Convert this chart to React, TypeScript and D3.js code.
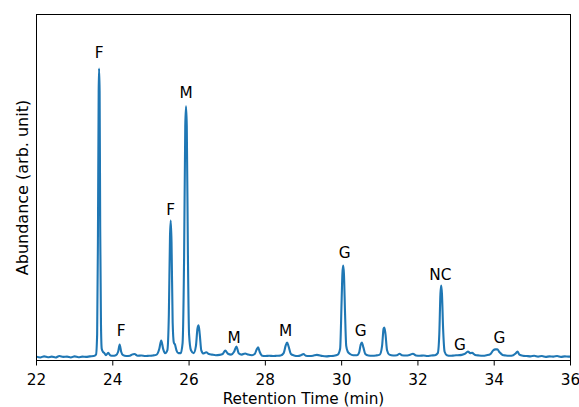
import React from "react";
import * as d3 from "d3";

// Chromatogram trace: [retention time (min), abundance]
const traceTime: number[] = [
  22.0, 22.1, 22.2, 22.3, 22.4, 22.5, 22.6, 22.7, 22.8, 22.9, 23.0, 23.1, 23.2, 23.3, 23.4, 23.5,
  23.56, 23.59, 23.61, 23.63, 23.64, 23.655, 23.67, 23.69, 23.71, 23.74, 23.78, 23.82, 23.88, 23.94,
  24.0, 24.08, 24.14, 24.18, 24.22, 24.27, 24.35, 24.45, 24.5, 24.57, 24.65, 24.75, 24.85, 24.95,
  25.05, 25.15, 25.22, 25.27, 25.32, 25.37, 25.43, 25.47, 25.5, 25.52, 25.54, 25.57, 25.6, 25.63,
  25.67, 25.72, 25.78, 25.83, 25.87, 25.9, 25.92, 25.94, 25.97, 26.0, 26.05, 26.12, 26.18, 26.22,
  26.25, 26.28, 26.32, 26.38, 26.45, 26.52, 26.6, 26.7, 26.8, 26.88, 26.95, 27.02, 27.1, 27.18,
  27.24, 27.3, 27.38, 27.47, 27.55, 27.65, 27.72, 27.78, 27.81, 27.85, 27.92, 28.0, 28.1, 28.2,
  28.3, 28.4, 28.48, 28.53, 28.57, 28.61, 28.67, 28.75, 28.85, 28.95, 29.0, 29.06, 29.15, 29.25,
  29.35, 29.5, 29.6, 29.7, 29.8, 29.9, 29.96, 30.0, 30.02, 30.04, 30.06, 30.09, 30.12, 30.16,
  30.22, 30.3, 30.4, 30.46, 30.5, 30.53, 30.57, 30.62, 30.7, 30.8, 30.9, 31.0, 31.06, 31.1,
  31.12, 31.15, 31.19, 31.25, 31.35, 31.45, 31.52, 31.58, 31.68, 31.78, 31.87, 31.95, 32.05,
  32.15, 32.25, 32.35, 32.45, 32.52, 32.56, 32.59, 32.61, 32.63, 32.66, 32.7, 32.76, 32.85,
  32.95, 33.05, 33.15, 33.24, 33.31, 33.37, 33.42, 33.5, 33.6, 33.7, 33.8, 33.9, 33.97, 34.03,
  34.08, 34.14, 34.22, 34.3, 34.4, 34.5, 34.56, 34.61, 34.66, 34.75, 34.85, 34.95, 35.05, 35.15,
  35.25, 35.35, 35.45, 35.55, 35.65, 35.75, 35.85, 35.95, 36.0,
];
const traceAbundance: number[] = [
  0.3, 0.0, 0.4, 0.1, 0.3, 0.0, 0.5, 0.2, 0.3, 0.0, 0.4, 0.1, 0.3, 0.2, 0.4, 0.5,
  1.0, 8, 40, 92, 100, 92, 45, 12, 3, 2, 1.5, 0.8, 1.6, 0.7,
  0.6, 0.8, 2.0, 4.5, 2.0, 0.8, 0.5, 0.6, 1.0, 1.2, 0.6, 0.7, 0.5, 0.6,
  0.7, 1.0, 3.0, 5.9, 3.0, 1.5, 2.5, 15, 42, 47.4, 40, 12, 5.2, 4.5,
  2.5, 1.5, 1.5, 5, 35, 80, 86.9, 80, 35, 8, 2.5, 1.5, 4, 10,
  11.1, 8, 2.5, 1.4, 1.8, 1.2, 1.0, 0.8, 0.9, 1.2, 2.4, 1.3, 1.0, 2.0,
  3.8, 1.5, 1.0, 1.4, 1.0, 0.8, 1.2, 3.0, 3.5, 2.0, 0.6, 0.5, 0.6, 0.5,
  0.6, 0.7, 1.5, 4.0, 5.2, 3.8, 1.2, 0.7, 0.5, 0.9, 1.2, 0.6, 0.5, 0.6,
  0.9, 0.5, 0.4, 0.5, 0.6, 1.0, 3, 20, 29, 31.8, 29, 15, 4, 2,
  1.2, 0.8, 0.8, 1.8, 4.5, 5.2, 3.5, 1.2, 0.7, 0.6, 0.7, 1.0, 4, 10,
  10.4, 8, 2.5, 1.0, 0.7, 0.8, 1.3, 0.8, 0.7, 0.9, 1.3, 0.7, 0.6,
  0.7, 0.5, 0.7, 0.8, 1.5, 8, 22, 24.9, 22, 10, 2, 0.8, 0.6,
  0.7, 0.8, 0.9, 1.3, 2.1, 1.5, 1.6, 0.9, 0.7, 0.6, 0.8, 1.2, 2.4, 2.8,
  2.8, 1.8, 0.9, 0.7, 0.6, 0.8, 1.4, 2.1, 1.0, 0.6, 0.5, 0.4, 0.6, 0.3,
  0.5, 0.2, 0.4, 0.3, 0.5, 0.2, 0.4, 0.3, 0.3,
];

// Peak annotations
const labelText: string[] = ["F", "F", "F", "M", "M", "M", "G", "G", "NC", "G", "G"];
const labelTime: number[] = [23.64, 24.22, 25.52, 25.92, 27.18, 28.53, 30.08, 30.5, 32.59, 33.1, 34.14];
const labelAbundance: number[] = [105.5, 9.3, 51.2, 91.7, 6.6, 9.3, 36.3, 9.3, 28.4, 4.2, 6.6];

const xTicks: number[] = [22, 24, 26, 28, 30, 32, 34, 36];
const xDomain: [number, number] = [22, 36];
const yDomain: [number, number] = [-1.04, 118.7];

const W = 579;
const H = 407;
const M = { left: 36.5, right: 570.5, top: 14.5, bottom: 360.5 };
const FONT = "'DejaVu Sans', sans-serif";
const FS = 15.3;

export default function App() {
  const x = d3.scaleLinear().domain(xDomain).range([M.left, M.right]);
  const y = d3.scaleLinear().domain(yDomain).range([M.bottom, M.top]);
  const pts: [number, number][] = traceTime.map((t, i) => [t, traceAbundance[i]]);
  const line = d3
    .line<[number, number]>()
    .x((d) => x(d[0]))
    .y((d) => y(d[1]))
    .curve(d3.curveMonotoneX);

  return (
    <svg
      width={W}
      height={H}
      style={{ position: "absolute", left: 0, top: 0, background: "#fff" }}
      fontFamily={FONT}
    >
      <rect x={0} y={0} width={W} height={H} fill="#fff" />
      <defs>
        <clipPath id="plot">
          <rect x={M.left} y={M.top} width={M.right - M.left} height={M.bottom - M.top} />
        </clipPath>
      </defs>
      <path
        d={line(pts) || ""}
        fill="none"
        stroke="#1f77b4"
        strokeWidth={2.1}
        strokeLinejoin="round"
        clipPath="url(#plot)"
      />
      {labelText.map((s, i) => (
        <text
          key={i}
          x={x(labelTime[i])}
          y={y(labelAbundance[i])}
          textAnchor="middle"
          dominantBaseline="central"
          fontSize={FS}
          fill="#000"
        >
          {s}
        </text>
      ))}
      <rect
        x={M.left}
        y={M.top}
        width={M.right - M.left}
        height={M.bottom - M.top}
        fill="none"
        stroke="#000"
        strokeWidth={1}
      />
      {xTicks.map((t) => (
        <g key={t}>
          <line x1={x(t)} x2={x(t)} y1={M.bottom} y2={M.bottom + 5} stroke="#000" strokeWidth={1} />
          <text x={x(t)} y={M.bottom + 24} textAnchor="middle" fontSize={FS} fill="#000">
            {t}
          </text>
        </g>
      ))}
      <text x={(M.left + M.right) / 2} y={404} textAnchor="middle" fontSize={FS} fill="#000">
        Retention Time (min)
      </text>
      <text
        transform={`translate(${22},${(M.top + M.bottom) / 2}) rotate(-90)`}
        textAnchor="middle"
        dominantBaseline="central"
        fontSize={16}
        fill="#000"
      >
        Abundance (arb. unit)
      </text>
    </svg>
  );
}
